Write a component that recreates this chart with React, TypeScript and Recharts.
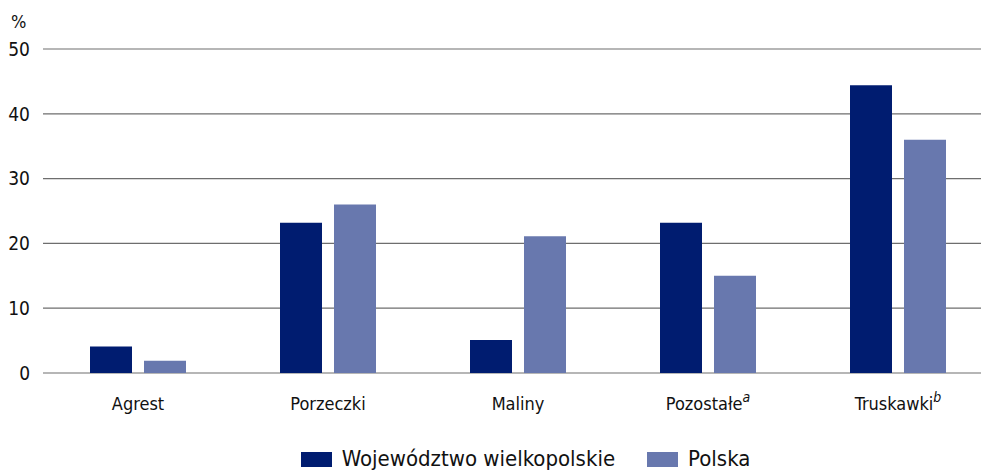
import React from 'react';
import { BarChart, Bar, XAxis, YAxis, CartesianGrid, Legend } from 'recharts';

const categories = ['Agrest', 'Porzeczki', 'Maliny', 'Pozostałe', 'Truskawki'];
const superscripts = ['', '', '', 'a', 'b'];
const wielkopolskie = [4.1, 23.2, 5.1, 23.2, 44.4];
const polska = [1.9, 26.0, 21.1, 15.0, 36.0];
const yTicks = [0, 10, 20, 30, 40, 50];
const seriesOrder = ['Województwo wielkopolskie', 'Polska'];

const data = categories.map((name, i) => ({
  name,
  sup: superscripts[i],
  wlkp: wielkopolskie[i],
  pl: polska[i],
}));

const FONT = '"Liberation Sans Narrow", "DejaVu Sans Condensed", "Roboto", sans-serif';
const DARK = '#001c70';
const LIGHT = '#6878ae';

const CategoryTick = (props: any) => {
  const { x, y, payload, index } = props;
  const sup = superscripts[index] ?? '';
  return (
    <text x={x} y={y + 32} textAnchor="middle" dominantBaseline="middle" fontFamily={FONT} fontSize={18} fill="#111">
      <tspan>{payload.value}</tspan>
      {sup ? (
        <tspan dy={-7} fontSize={14} fontStyle="italic">{sup}</tspan>
      ) : null}
    </text>
  );
};

const LegendContent = (props: any) => {
  const items = [...(props.payload || [])].sort(
    (a: any, b: any) => seriesOrder.indexOf(a.value) - seriesOrder.indexOf(b.value)
  );
  return (
    <div style={{ height: 52, display: 'flex', justifyContent: 'center', alignItems: 'flex-start', paddingTop: 32, boxSizing: 'border-box', marginLeft: 90 }}>
      {items.map((it: any) => (
        <div key={it.value} style={{ display: 'flex', alignItems: 'center', marginRight: 32 }}>
          <span style={{ display: 'inline-block', width: 31, height: 15, background: it.color, marginRight: 10 }} />
          <span style={{ fontFamily: FONT, fontSize: 22, color: '#111', lineHeight: '18px' }}>{it.value}</span>
        </div>
      ))}
    </div>
  );
};

const App: React.FC = () => {
  return (
    <div style={{ position: 'absolute', left: 0, top: 0, width: 981, height: 470, background: '#fff', overflow: 'hidden' }}>
      <div style={{ position: 'absolute', left: 11, top: 11, fontFamily: FONT, fontSize: 18, color: '#111' }}>%</div>
      <BarChart
        width={993}
        height={470}
        data={data}
        margin={{ top: 49, right: 0, bottom: 0, left: 0 }}
        barSize={42}
        barGap={12}
      >
        <CartesianGrid vertical={false} stroke="#6e6e6e" strokeWidth={1.2} />
        <XAxis
          dataKey="name"
          axisLine={false}
          tickLine={false}
          height={45}
          tickMargin={0}
          tickSize={0}
          interval={0}
          tick={<CategoryTick />}
        />
        <YAxis
          domain={[0, 50]}
          ticks={yTicks}
          axisLine={false}
          tickLine={false}
          tickSize={0}
          tickMargin={13}
          width={43}
          tick={{ fontFamily: FONT, fontSize: 19, fill: '#111' }}
        />
        <Legend verticalAlign="bottom" content={<LegendContent />} />
        <Bar dataKey="wlkp" name="Województwo wielkopolskie" fill={DARK} isAnimationActive={false} />
        <Bar dataKey="pl" name="Polska" fill={LIGHT} isAnimationActive={false} />
      </BarChart>
    </div>
  );
};

export default App;
